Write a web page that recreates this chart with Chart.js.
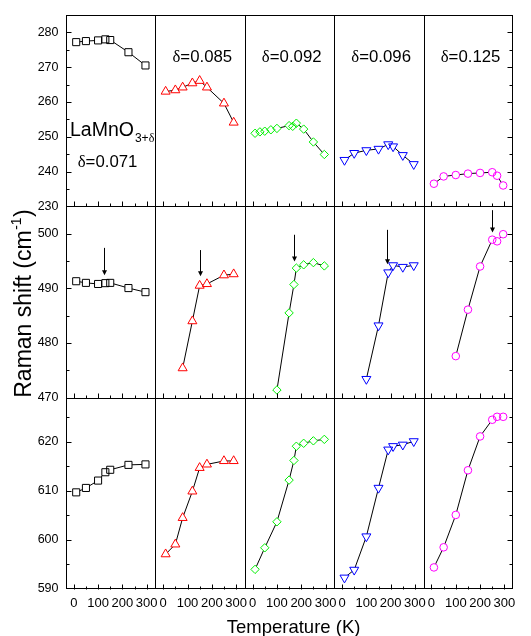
<!DOCTYPE html>
<html>
<head>
<meta charset="utf-8">
<script src="https://cdn.jsdelivr.net/npm/chart.js@4.4.0/dist/chart.umd.min.js"></script>
<style>
  html, body { margin: 0; padding: 0; background: #fff; }
</style>
</head>
<body>
<canvas id="chart" width="531" height="636"></canvas>
<script>
// oxygen excess of each column
var deltas = ['0.071', '0.085', '0.092', '0.096', '0.125'];

// row 1: low mode (230-285 cm-1)
var lowTemps = [
    [10, 50, 100, 130, 150, 225, 295],
    [10, 50, 80, 120, 150, 180, 250, 290],
    [10, 30, 50, 75, 100, 150, 165, 180, 210, 250, 295],
    [10, 50, 100, 150, 190, 210, 250, 295],
    [10, 50, 100, 150, 200, 250, 270, 295]
];
var lowShift = [
    [277.2, 277.5, 277.7, 278.0, 277.8, 274.3, 270.5],
    [263.0, 263.4, 264.2, 265.4, 266.1, 264.2, 259.6, 254.1],
    [251.0, 251.4, 251.6, 252.0, 252.4, 253.2, 253.0, 253.9, 252.2, 248.5, 244.9],
    [243.3, 245.3, 246.1, 246.5, 247.8, 247.2, 244.7, 242.1],
    [236.5, 238.6, 239.0, 239.4, 239.6, 239.8, 238.8, 236.0]
];

// row 2: middle mode (470-505 cm-1)
var midTemps = [
    [10, 50, 100, 130, 150, 225, 295],
    [80, 120, 150, 180, 250, 290],
    [100, 150, 170, 180, 210, 250, 295],
    [100, 150, 190, 210, 250, 295],
    [100, 150, 200, 250, 270, 295]
];
var midShift = [
    [491.3, 491.0, 490.8, 490.95, 491.0, 490.05, 489.3],
    [475.4, 484.0, 490.5, 490.8, 492.4, 492.6],
    [471.4, 485.5, 490.7, 493.7, 494.3, 494.7, 494.1],
    [473.4, 483.2, 492.9, 494.2, 493.9, 494.2],
    [477.6, 486.1, 494.0, 498.9, 498.6, 499.9]
];

// row 3: high mode (590-629 cm-1)
var highTemps = [
    [10, 50, 100, 130, 150, 225, 295],
    [10, 50, 80, 120, 150, 180, 250, 290],
    [10, 50, 100, 150, 170, 180, 210, 250, 295],
    [10, 50, 100, 150, 190, 210, 250, 295],
    [10, 50, 100, 150, 200, 250, 270, 295]
];
var highShift = [
    [609.7, 610.6, 612.1, 613.8, 614.3, 615.3, 615.4],
    [597.1, 599.1, 604.5, 609.9, 614.7, 615.4, 616.1, 616.1],
    [594.0, 598.4, 603.7, 612.2, 616.2, 619.1, 619.7, 620.2, 620.5],
    [592.3, 593.9, 600.7, 610.6, 618.4, 619.1, 619.4, 620.1],
    [594.4, 598.5, 605.1, 614.2, 621.1, 624.5, 625.1, 625.1]
];

// arrows in row 2 (temperature, start and tip in cm-1)
var arrowTemp = [125, 150, 170, 185, 250];
var arrowFrom = [497.4, 497.0, 499.8, 500.7, 504.3];
var arrowTo = [492.4, 492.2, 494.9, 494.4, 500.2];

var tempTicks = [0, 100, 200, 300];
var rowTicks = [
    [230, 240, 250, 260, 270, 280],
    [470, 480, 490, 500],
    [590, 600, 610, 620]
];
var rowRange = [[230, 285], [470, 505], [590, 629]];

var colors = ['#000000', '#ff0000', '#00ee00', '#0000ff', '#ff00ff'];
var shapes = ['rect', 'triangle', 'rectRot', 'triangle', 'circle'];
var rotations = [0, 0, 0, 180, 0];
var radii = [5, 5.2, 4.2, 5.2, 3.8];

var SANS = '"Liberation Sans", Arial, sans-serif';
var SERIF = '"Liberation Serif", "Times New Roman", serif';

function pairs(xs, ys) {
    return xs.map(function (t, i) { return {x: t, y: ys[i]}; });
}

var rows = [[lowTemps, lowShift], [midTemps, midShift], [highTemps, highShift]];
var datasets = [];
rows.forEach(function (row, r) {
    for (var c = 0; c < 5; c++) {
        var pts = pairs(row[0][c], row[1][c]);
        // line plus white marker bodies, so the line stops at the markers
        datasets.push({
            data: pts, xAxisID: 'x' + c, yAxisID: 'y' + r, order: 2,
            borderColor: '#000', borderWidth: 1, showLine: true,
            pointStyle: shapes[c], pointRotation: rotations[c], pointRadius: radii[c],
            pointBackgroundColor: '#fff', pointBorderWidth: 0
        });
        // marker outlines on top
        datasets.push({
            data: pts, xAxisID: 'x' + c, yAxisID: 'y' + r, order: 1,
            showLine: false,
            pointStyle: shapes[c], pointRotation: rotations[c], pointRadius: radii[c],
            pointBackgroundColor: 'rgba(0,0,0,0)', pointBorderColor: colors[c], pointBorderWidth: 1
        });
    }
});

var scales = {};
for (var c = 0; c < 5; c++) {
    scales['x' + c] = {
        type: 'linear', position: 'bottom', stack: 'cols', stackWeight: 1,
        min: -32, max: 336,
        grid: { display: false, drawTicks: false },
        border: { display: false },
        ticks: { autoSkip: false, maxRotation: 0, padding: 7, color: '#000',
                 font: { family: SANS, size: 13 } },
        afterBuildTicks: function (s) { s.ticks = tempTicks.map(function (v) { return {value: v}; }); },
        afterFit: function (s) { s.height = 47; }
    };
}
[0, 1, 2].forEach(function (r) {
    scales['y' + r] = {
        type: 'linear', position: 'left', stack: 'rows', stackWeight: 1, weight: 3 - r,
        min: rowRange[r][0], max: rowRange[r][1],
        grid: { display: false, drawTicks: false },
        border: { display: false },
        ticks: { padding: 7.5, color: '#000', font: { family: SANS, size: 12.5 } },
        afterBuildTicks: function (s) { s.ticks = rowTicks[r].map(function (v) { return {value: v}; }); },
        afterFit: function (s) { s.width = 66; }
    };
});

function px(v) { return Math.round(v) + 0.5; }

function line(ctx, x1, y1, x2, y2) {
    ctx.beginPath();
    ctx.moveTo(x1, y1);
    ctx.lineTo(x2, y2);
    ctx.stroke();
}

function deltaText(ctx, x, y, value, size) {
    ctx.font = size + 'px ' + SERIF;
    ctx.fillText('\u03b4', x, y);
    x += ctx.measureText('\u03b4').width;
    ctx.font = size + 'px ' + SANS;
    ctx.fillText('=' + value, x, y);
}

var panelFrame = {
    id: 'panelFrame',
    afterDatasetsDraw: function (chart) {
        var ctx = chart.ctx, area = chart.chartArea;
        var left = px(area.left), right = px(area.right - 1), top = px(area.top), bottom = px(area.bottom - 1);
        ctx.save();
        ctx.strokeStyle = '#000';
        ctx.lineWidth = 1;

        // frame and dividers
        ctx.strokeRect(left, top, right - left, bottom - top);
        for (var c = 1; c < 5; c++) {
            var xl = px(chart.scales['x' + c].left);
            line(ctx, xl, top, xl, bottom);
        }
        for (var r = 1; r < 3; r++) {
            var yt = px(chart.scales['y' + r].top);
            line(ctx, left, yt, right, yt);
        }

        // temperature ticks along the bottom of every panel
        for (r = 0; r < 3; r++) {
            var yb = px(chart.scales['y' + r].bottom);
            for (c = 0; c < 5; c++) {
                var xs = chart.scales['x' + c];
                for (var t = 0; t <= 300; t += 50) {
                    var x = px(xs.getPixelForValue(t));
                    line(ctx, x, yb, x, yb - (t % 100 === 0 ? 5 : 3));
                }
            }
        }

        // shift ticks on the outer left and right edges
        for (r = 0; r < 3; r++) {
            var ys = chart.scales['y' + r];
            for (var v = rowRange[r][0] + 5; v < rowRange[r][1]; v += 5) {
                var y = px(ys.getPixelForValue(v));
                var len = (v % 10 === 0) ? 5 : 3;
                line(ctx, left, y, left + len, y);
                line(ctx, right, y, right - len, y);
            }
        }

        // arrows in the middle row
        var ym = chart.scales.y1;
        ctx.fillStyle = '#000';
        for (c = 0; c < 5; c++) {
            var ax = px(chart.scales['x' + c].getPixelForValue(arrowTemp[c]));
            var y1 = ym.getPixelForValue(arrowFrom[c]);
            var y2 = ym.getPixelForValue(arrowTo[c]);
            line(ctx, ax, y1, ax, y2 - 4);
            ctx.beginPath();
            ctx.moveTo(ax - 2.5, y2 - 5);
            ctx.lineTo(ax + 2.5, y2 - 5);
            ctx.lineTo(ax, y2);
            ctx.closePath();
            ctx.fill();
        }

        // labels inside panels
        var yTop = area.top;
        var x0 = chart.scales.x0.left;
        ctx.font = '19.5px ' + SANS;
        ctx.fillText('LaMnO', x0 + 4, yTop + 120.5);
        var w = ctx.measureText('LaMnO').width;
        ctx.font = '12px ' + SANS;
        ctx.fillText('3+', x0 + 5 + w, yTop + 127);
        var w2 = ctx.measureText('3+').width;
        ctx.font = '12px ' + SERIF;
        ctx.fillText('\u03b4', x0 + 5 + w + w2, yTop + 127);
        deltaText(ctx, x0 + 11.7, yTop + 152.3, deltas[0], 16.8);
        for (c = 1; c < 5; c++) {
            deltaText(ctx, chart.scales['x' + c].left + 17, yTop + 46.5, deltas[c], 16.8);
        }

        // axis titles
        ctx.font = '18.5px ' + SANS;
        ctx.textAlign = 'center';
        ctx.fillText('Temperature (K)', (area.left + area.right) / 2 + 4, 633);

        ctx.save();
        ctx.translate(31, 304);
        ctx.rotate(-Math.PI / 2);
        ctx.textAlign = 'left';
        ctx.font = '23px ' + SANS;
        var a = 'Raman shift (cm', b = '-1', d = ')';
        var wa = ctx.measureText(a).width, wd = ctx.measureText(d).width;
        ctx.font = '14px ' + SANS;
        var wb = ctx.measureText(b).width;
        var sx = -(wa + wb + wd) / 2;
        ctx.font = '23px ' + SANS;
        ctx.fillText(a, sx, 0);
        ctx.fillText(d, sx + wa + wb + 1, 0);
        ctx.font = '14px ' + SANS;
        ctx.fillText(b, sx + wa + 0.5, -10);
        ctx.restore();

        ctx.restore();
    }
};

new Chart(document.getElementById('chart').getContext('2d'), {
    type: 'scatter',
    data: { datasets: datasets },
    options: {
        responsive: false,
        animation: false,
        layout: { padding: { left: 0, top: 6, right: 1.5, bottom: 0 } },
        plugins: { legend: { display: false }, tooltip: { enabled: false } },
        scales: scales
    },
    plugins: [panelFrame]
});
</script>
</body>
</html>
